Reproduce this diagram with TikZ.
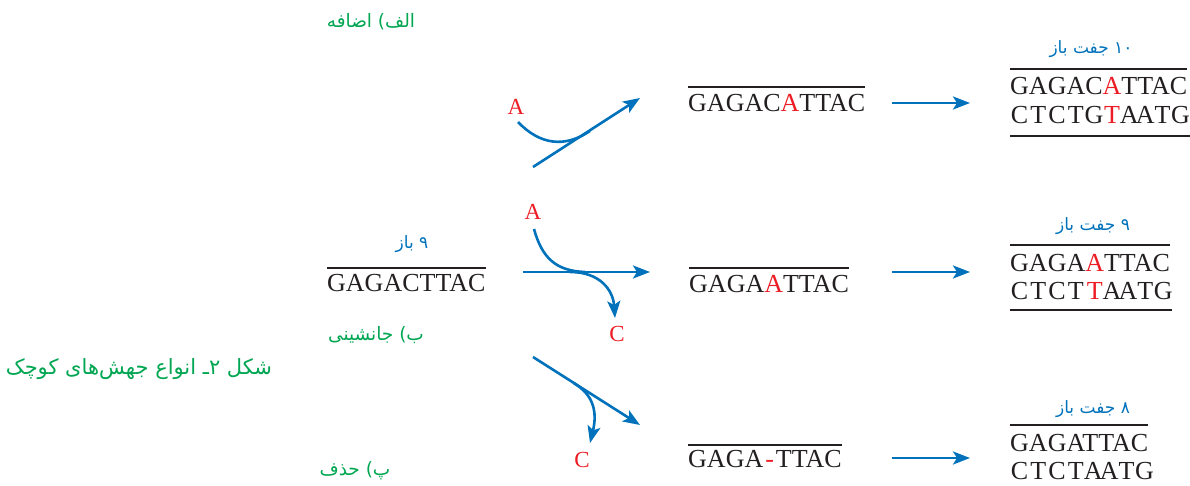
\documentclass[tikz,border=0pt]{standalone}
\usepackage{fontspec}
\usepackage{xcolor}
\usetikzlibrary{arrows.meta}
\TeXXeTstate=1
\newfontfamily\dnafont{Liberation Serif}
\newfontfamily\fafont[Script=Arabic]{DejaVu Sans}
\definecolor{grn}{RGB}{0,166,81}
\definecolor{blu}{RGB}{0,114,188}
\definecolor{mred}{RGB}{237,28,36}
\definecolor{dnak}{RGB}{35,31,32}
\newlength\bpw
\newcommand\cb[2]{\settowidth{\bpw}{#1}\makebox[\bpw][c]{#2}}
\newcommand\rd[1]{\textcolor{mred}{#1}}
\tikzset{
  dna/.style={font=\dnafont\fontsize{26}{30}\selectfont, text=dnak, inner sep=0pt, anchor=base west},
  strand/.style={draw=dnak, line width=1.8pt},
  fa/.style={inner sep=0pt},
  lab/.style={fa, text=grn, font=\fafont\fontsize{18.5}{22}\selectfont},
  capt/.style={fa, text=grn, font=\fafont\fontsize{21}{24}\selectfont},
  cnt/.style={fa, text=blu, font=\fafont\fontsize{17}{20}\selectfont},
  arr/.style={draw=blu, line width=2.6pt, -{Stealth[length=17pt,width=13pt,inset=4pt]}},
  mut/.style={draw=blu, line width=2.6pt},
  nuc/.style={inner sep=0pt, text=mred, font=\dnafont\fontsize{23}{26}\selectfont}
}
\begin{document}
\begin{tikzpicture}[x=1pt,y=-1pt]
\useasboundingbox (0,0) rectangle (1190,486);
% labels
\node[lab] (la) at (371,22) {\beginR الف) اضافه\endR};
\node[lab] (lb) at (376,335) {\beginR ب) جانشینی\endR};
\node[lab] (lc) at (355,471) {\beginR پ) حذف\endR};
\node[capt] (cap) at (139,369) {\beginR شکل ۲ـ انواع جهش‌های کوچک\endR};
% original strand
\node[dna] (L) at (327,291) {GAGACTTAC};
\draw[strand] ([yshift=23pt]L.base west) -- ([yshift=23pt]L.base east);
\node[cnt] (Lc) at (412,244) {\beginR ۹ باز\endR};
% insertion
\node[nuc] (A1) at (516,107) {A};
\coordinate (t1s) at (533,167);
\coordinate (t1e) at (640,98);
\coordinate (c1s) at (518,122);
\coordinate (c1e) at (590,131);
\draw[arr] (t1s) -- (t1e);
\draw[mut] (c1s) .. controls (540,145) and (565,148) .. (c1e);
% substitution
\node[nuc] (A2) at (533,212) {A};
\node[nuc] (C2) at (617,334) {C};
\coordinate (t2s) at (523,272);
\coordinate (t2e) at (650,272);
\coordinate (c2s) at (534,229);
\coordinate (c2m) at (585,272);
\coordinate (c2n) at (570,272);
\coordinate (c2e) at (615,318);
\draw[arr] (t2s) -- (t2e);
\draw[mut] (c2s) .. controls (542,258) and (556,271) .. (c2m);
\draw[arr] (c2n) .. controls (600,272) and (613,290) .. (c2e);
% deletion
\node[nuc] (C3) at (582,460) {C};
\coordinate (t3s) at (533,357);
\coordinate (t3e) at (640,425);
\coordinate (c3s) at (574,383.3);
\coordinate (c3e) at (590,443);
\draw[arr] (t3s) -- (t3e);
\draw[arr] (c3s) .. controls (592,394) and (598,410) .. (c3e);
% mutated single strands
\node[dna] (m1) at (688,112) {GAGAC\rd{A}TTAC};
\draw[strand] ([yshift=25pt]m1.base west) -- ([yshift=25pt]m1.base east);
\node[dna] (m2) at (689,292) {GAGA\rd{A}TTAC};
\draw[strand] ([yshift=24pt]m2.base west) -- ([yshift=24pt]m2.base east);
\node[dna] (m3) at (688,467) {GAGA\kern2pt\rd{-}\kern2pt TTAC};
\draw[strand] ([yshift=22pt]m3.base west) -- ([yshift=22pt]m3.base east);
% arrows to double strands
\coordinate (a1s) at (892,103); \coordinate (a1e) at (970,103);
\coordinate (a2s) at (892,272); \coordinate (a2e) at (970,272);
\coordinate (a3s) at (892,458); \coordinate (a3e) at (970,458);
\draw[arr] (a1s) -- (a1e);
\draw[arr] (a2s) -- (a2e);
\draw[arr] (a3s) -- (a3e);
% double strands
\node[cnt] (n1) at (1091,49) {\beginR ۱۰ جفت باز\endR};
\node[dna] (r1t) at (1010,95) {GAGAC\rd{A}TTAC};
\node[dna] (r1b) at (1010,124) {\cb{G}{C}\cb{A}{T}\cb{G}{C}\cb{A}{T}\cb{C}{G}\cb{A}{\rd{T}}\cb{T}{A}\cb{T}{A}\cb{A}{T}\cb{C}{G}};
\draw[strand] ([yshift=26pt]r1t.base west) -- ([yshift=26pt]r1t.base east);
\draw[strand] ([yshift=-12pt]r1b.base west) -- ([yshift=-12pt]r1b.base east);
\node[cnt] (n2) at (1093,226) {\beginR ۹ جفت باز\endR};
\node[dna] (r2t) at (1010,271) {GAGA\rd{A}TTAC};
\node[dna] (r2b) at (1010,299) {\cb{G}{C}\cb{A}{T}\cb{G}{C}\cb{A}{T}\cb{A}{\rd{T}}\cb{T}{A}\cb{T}{A}\cb{A}{T}\cb{C}{G}};
\draw[strand] ([yshift=26pt]r2t.base west) -- ([yshift=26pt]r2t.base east);
\draw[strand] ([yshift=-11pt]r2b.base west) -- ([yshift=-11pt]r2b.base east);
\node[cnt] (n3) at (1093,409) {\beginR ۸ جفت باز\endR};
\node[dna] (r3t) at (1010,451) {GAGATTAC};
\node[dna] (r3b) at (1010,479) {\cb{G}{C}\cb{A}{T}\cb{G}{C}\cb{A}{T}\cb{T}{A}\cb{T}{A}\cb{A}{T}\cb{C}{G}};
\draw[strand] ([yshift=26pt]r3t.base west) -- ([yshift=26pt]r3t.base east);
\end{tikzpicture}
\end{document}
